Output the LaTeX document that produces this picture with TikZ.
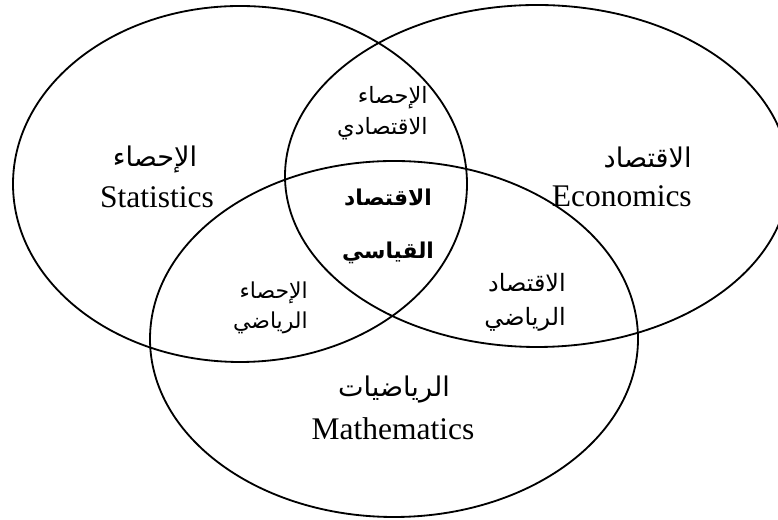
\documentclass[tikz,border=0pt]{standalone}
\usepackage{fontspec}
\setmainfont{Liberation Serif}
\newfontfamily\arabicfont[Script=Arabic]{DejaVu Sans}
\TeXXeTstate=1
\usetikzlibrary{positioning}

\begin{document}
\begin{tikzpicture}[
  set/.style={draw, line width=1.3pt},
  en/.style={font=\fontsize{22.4}{26}\selectfont, inner sep=0pt},
  ar/.style={font=\arabicfont\fontsize{19.3}{22}\selectfont, inner sep=0pt},
  sub/.style={font=\arabicfont\fontsize{16}{22}\selectfont, align=right, inner sep=0pt}
]
\useasboundingbox (0,0) rectangle (19.45,13);
\clip (0,0) rectangle (19.45,13);

% Sets
\draw[set] (6.0,8.4) ellipse [x radius=5.675cm, y radius=4.45cm];
\draw[set] (13.425,8.6) ellipse [x radius=6.3cm, y radius=4.275cm];
\draw[set] (9.85,4.525) ellipse [x radius=6.1cm, y radius=4.45cm];

% Set names
\node[ar] (statar) at (3.875,9.0) {\beginR الإحصاء\endR};
\node[en, anchor=base] (staten) at (3.925,7.8) {Statistics};
\node[ar, anchor=east] (econar) at (17.3,9.075) {\beginR الاقتصاد\endR};
\node[en, anchor=base east] (econen) at (17.3,7.825) {Economics};
\node[ar] (mathar) at (9.85,3.25) {\beginR الرياضيات\endR};
\node[en, anchor=base] (mathen) at (9.825,2.0) {Mathematics};

% Overlaps
\node[sub, anchor=east] (stec) at (10.7,10.175) {\beginR الإحصاء\endR\\\beginR الاقتصادي\endR};
\node[sub, anchor=east, font=\arabicfont\fontsize{15.6}{21}\selectfont] (stma) at (7.7,5.3) {\beginR الإحصاء\endR\\\beginR الرياضي\endR};
\node[sub, anchor=east, font=\arabicfont\fontsize{17}{24}\selectfont] (ecma) at (14.15,5.45) {\beginR الاقتصاد\endR\\\beginR الرياضي\endR};
\node[sub, align=center, font=\arabicfont\bfseries\fontsize{15.5}{37.7}\selectfont] (core) at (9.7,7.35) {\beginR الاقتصاد\endR\\\beginR القياسي\endR};
\end{tikzpicture}
\end{document}
